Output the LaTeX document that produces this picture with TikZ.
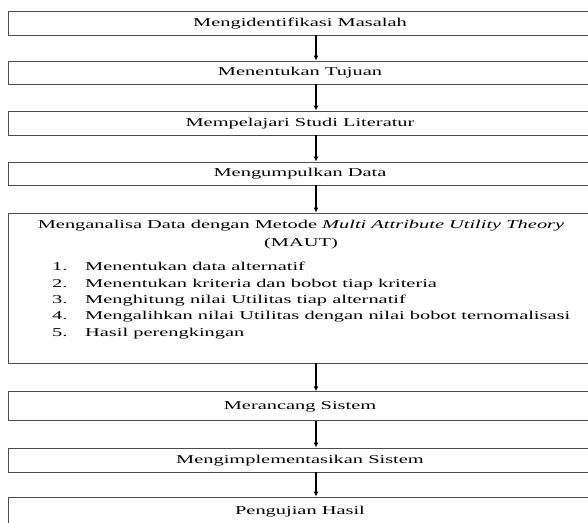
\documentclass[tikz,border=0pt]{standalone}
\usepackage{fontspec}
\setmainfont[FakeStretch=1.7]{Liberation Serif}
\usetikzlibrary{arrows.meta}

\tikzset{
    stepbox/.style={draw=black!70, line width=0.9pt, minimum width=616pt, inner sep=0pt},
    steptext/.style={font=\fontsize{12}{16}\selectfont, inner sep=0pt, text height=8.5pt, text depth=2.5pt},
    flow/.style={-{Latex[length=5pt,width=5pt]}, line width=1.1pt},
}

\begin{document}
\begin{tikzpicture}[x=1pt,y=-1pt]
    \useasboundingbox (0,0) rectangle (588,522);
    \clip (0,0) rectangle (588,522);
    % boxes
    \node[stepbox, minimum height=24pt] (b1) at (316,23) {};
    \node[stepbox, minimum height=23pt] (b2) at (316,72.5) {};
    \node[stepbox, minimum height=24pt] (b3) at (316,123) {};
    \node[stepbox, minimum height=23pt] (b4) at (316,173.5) {};
    \node[stepbox, minimum height=150pt] (b5) at (316,288) {};
    \node[stepbox, minimum height=28.5pt] (b6) at (316,406) {};
    \node[stepbox, minimum height=24pt] (b7) at (316,460) {};
    \node[stepbox, minimum height=30pt] (b8) at (316,512) {};
    % texts
    \node[steptext] (t1) at (300,23) {Mengidentifikasi Masalah};
    \node[steptext] (t2) at (300,72.5) {Menentukan Tujuan};
    \node[steptext] (t3) at (300,123) {Mempelajari Studi Literatur};
    \node[steptext] (t4) at (300,173.5) {Mengumpulkan Data};
    \node[steptext] (t5) at (301,225) {Menganalisa Data dengan Metode \textit{Multi Attribute Utility Theory}};
    \node[steptext] (t5b) at (301,243) {(MAUT)};
    \foreach \item [count=\i] in {Menentukan data alternatif,
                                  Menentukan kriteria dan bobot tiap kriteria,
                                  Menghitung nilai Utilitas tiap alternatif,
                                  Mengalihkan nilai Utilitas dengan nilai bobot ternomalisasi,
                                  Hasil perengkingan} {
        \node[steptext, anchor=west] (n\i) at (52,251.5+16.3*\i) {\i.};
        \node[steptext, anchor=west] (l\i) at (85,251.5+16.3*\i) {\item};
    }
    \node[steptext] (t6) at (300,406) {Merancang Sistem};
    \node[steptext] (t7) at (300,460) {Mengimplementasikan Sistem};
    \node[steptext] (t8) at (300,511) {Pengujian Hasil};
    % arrows
    \draw[flow] (b1.south) -- (b2.north);
    \draw[flow] (b2.south) -- (b3.north);
    \draw[flow] (b3.south) -- (b4.north);
    \draw[flow] (b4.south) -- (b5.north);
    \draw[flow] (b5.south) -- (b6.north);
    \draw[flow] (b6.south) -- (b7.north);
    \draw[flow] (b7.south) -- (b8.north);
\end{tikzpicture}
\end{document}
